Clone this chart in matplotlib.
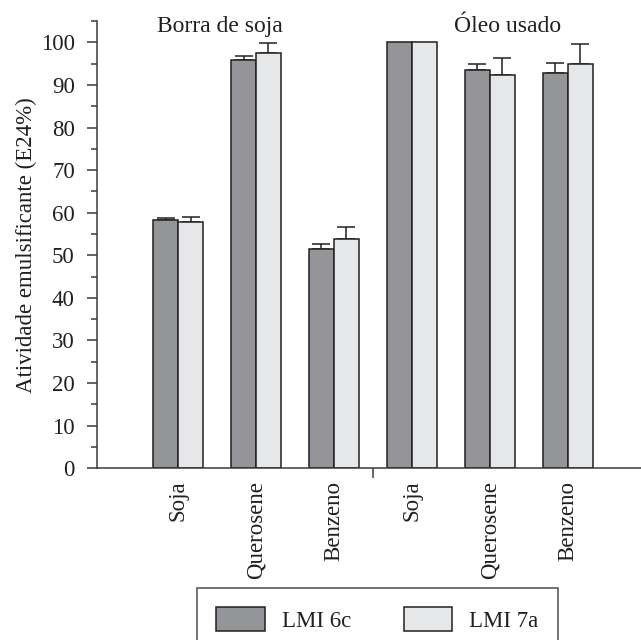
import numpy as np
import matplotlib
matplotlib.use("Agg")
import matplotlib.pyplot as plt
from matplotlib.ticker import MultipleLocator, FixedLocator
from matplotlib.patches import Patch

plt.rcParams['font.family'] = ['Liberation Serif', 'DejaVu Serif']

# Carbon sources within each substrate group
categories = ['Soja', 'Querosene', 'Benzeno', 'Soja', 'Querosene', 'Benzeno']
groups = ['Borra de soja', 'Óleo usado']

# Emulsifying activity E24 (%) and upper error (standard deviation)
lmi6c = [58.3, 95.8, 51.5, 100.0, 93.6, 92.9]
lmi6c_err = [0.5, 1.1, 1.2, 0.0, 1.2, 2.2]
lmi7a = [57.7, 97.6, 53.9, 100.0, 92.3, 94.8]
lmi7a_err = [1.4, 2.2, 2.8, 0.0, 3.9, 4.7]

dark = '#939598'
light = '#e6e7e8'
edge = '#231f20'
fs = 16.5

fig = plt.figure(figsize=(6.41, 6.40), dpi=100)
ax = fig.add_axes([97 / 641, 1 - 468.3 / 640, 544 / 641, (468.3 - 21) / 640])

x = np.arange(len(categories))
w = 0.32

for vals, errs, off, col in [(lmi6c, lmi6c_err, -w / 2, dark),
                             (lmi7a, lmi7a_err, w / 2, light)]:
    vals = np.asarray(vals)
    errs = np.asarray(errs)
    ax.bar(x + off, vals, width=w, color=col, edgecolor=edge, linewidth=1.1, zorder=2)
    m = errs > 0
    ax.errorbar(x[m] + off, vals[m], yerr=[np.zeros(m.sum()), errs[m]], fmt='none',
                ecolor=edge, elinewidth=1.1, capsize=6.8, capthick=1.1, zorder=1)

ax.set_xlim(-1.04, 5.94)
ax.set_ylim(0, 105)

ax.spines['top'].set_visible(False)
ax.spines['right'].set_visible(False)
for s in ('left', 'bottom'):
    ax.spines[s].set_linewidth(1.1)
    ax.spines[s].set_color('#3a3a3a')

ax.yaxis.set_major_locator(MultipleLocator(10))
ax.yaxis.set_minor_locator(MultipleLocator(5))
ax.tick_params(axis='y', which='major', length=7, width=1.1, pad=9,
               labelsize=fs, colors='#3a3a3a', labelcolor='#231f20')
ax.tick_params(axis='y', which='minor', length=4, width=1.1, colors='#3a3a3a')

ax.set_xticks(x)
ax.set_xticklabels(categories, rotation=90, fontsize=fs, color='#231f20')
ax.tick_params(axis='x', which='major', length=0, pad=9)
ax.xaxis.set_minor_locator(FixedLocator([2.5]))
ax.tick_params(axis='x', which='minor', length=7.5, width=1.1, colors='#3a3a3a')

ax.set_ylabel('Atividade emulsificante (E24%)', fontsize=fs, color='#231f20')
ax.yaxis.set_label_coords(-0.11, 0.5)

ax.text(0.54, 102.5, groups[0], ha='center', va='baseline', fontsize=17,
        color='#231f20', clip_on=False)
ax.text(4.23, 102.5, groups[1], ha='center', va='baseline', fontsize=17,
        color='#231f20', clip_on=False)

handles = [Patch(facecolor=dark, edgecolor=edge, linewidth=1.1, label='LMI 6c'),
           Patch(facecolor=light, edgecolor=edge, linewidth=1.1, label='LMI 7a')]
leg = fig.legend(handles=handles, loc='upper left', bbox_to_anchor=(197 / 641, 1 - 588 / 640),
                 ncol=2, fontsize=fs, frameon=True, fancybox=False, borderpad=0.85,
                 handlelength=2.1, handleheight=1.2, handletextpad=0.75,
                 columnspacing=2.3, borderaxespad=0)
leg.get_frame().set_edgecolor(edge)
leg.get_frame().set_linewidth(1.1)
for t in leg.get_texts():
    t.set_color('#231f20')

fig.savefig('out.png', dpi=100)
